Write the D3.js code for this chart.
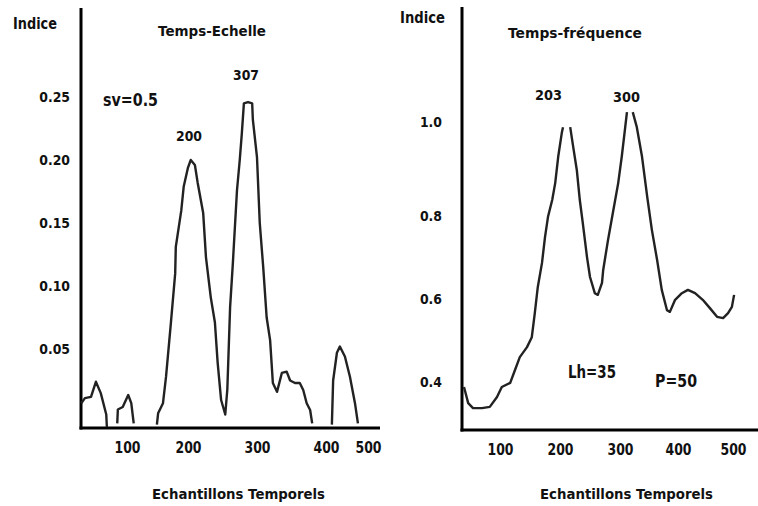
<!DOCTYPE html>
<html>
<head>
<meta charset="utf-8">
<script src="https://cdn.jsdelivr.net/npm/d3@7"></script>
<style>
  body { margin: 0; background: #fff; }
  text { font-family: "DejaVu Sans", sans-serif; font-weight: bold; fill: #111; }
</style>
</head>
<body>
<svg id="chart" width="758" height="506"></svg>
<script>
// --- Data ---
const sampleTicks = [100, 200, 300, 400, 500];
const leftIndiceTicks = [0.05, 0.10, 0.15, 0.20, 0.25];
const rightIndiceTicks = [0.4, 0.6, 0.8, 1.0];

// Temps-Echelle (null = gap in curve)
const leftSamples = [25, 31, 41, 49, 57, 66, 67, null,
  84, 85, 93, 102, 107, 111, null,
  149, 151, 159, 164, 172, 179, 180, 189, 193, 200, 204, 210, 214, 222, 226, 233, 239, 243, 248, 254,
  257, 261, 265, 271, 275, 278, 281, 287, 293, 294, 300, 304, 309, 314, 319, 323, 329, 336, 343, 348,
  355, 362, 367, 372, 377, 380, null,
  414, 417, 426, 433, 445, 457, 469, 476];
const leftIndice = [0.007, 0.011, 0.012, 0.024, 0.015, -0.002, -0.012, null,
  -0.009, 0.002, 0.004, 0.0135, 0.007, -0.009, null,
  -0.010, -0.001, 0.007, 0.028, 0.071, 0.110, 0.131, 0.160, 0.179, 0.194, 0.200, 0.196, 0.182, 0.158, 0.123, 0.091, 0.071, 0.039, 0.0095, -0.002,
  0.018, 0.083, 0.118, 0.176, 0.200, 0.221, 0.245, 0.246, 0.245, 0.232, 0.202, 0.150, 0.115, 0.075, 0.057, 0.023, 0.016, 0.031, 0.032, 0.025,
  0.023, 0.023, 0.0175, 0.007, 0.0016, -0.009, null,
  -0.010, 0.025, 0.047, 0.052, 0.044, 0.028, 0.007, -0.009];

// Temps-Fréquence
const rightSamples = [40, 47, 55, 70, 83, 95, 103, 117, 125, 133, 145, 153, 158, 163, 170, 175, 180, 187, 192, 197, 203, 205, null,
  217, 222, 228, 233, 238, 245, 250, 258, 263, 270, 272, 280, 288, 297, 303, 309, 312, null,
  322, 329, 338, 347, 355, 364, 372, 381, 386, 395, 407, 418, 431, 445, 458, 471, 482, 491, 498, 502];
const rightIndice = [0.388, 0.349, 0.337, 0.337, 0.340, 0.364, 0.388, 0.398, 0.429, 0.460, 0.484, 0.508, 0.566, 0.629, 0.687, 0.749, 0.798, 0.834, 0.870, 0.926, 0.977, 0.989, null,
  0.989, 0.947, 0.898, 0.834, 0.783, 0.701, 0.653, 0.614, 0.610, 0.639, 0.670, 0.742, 0.806, 0.870, 0.926, 0.989, 1.021, null,
  1.021, 0.989, 0.926, 0.840, 0.766, 0.694, 0.622, 0.573, 0.569, 0.598, 0.614, 0.622, 0.614, 0.598, 0.578, 0.557, 0.554, 0.566, 0.581, 0.610];

const svg = d3.select("#chart");

// squeeze a text node horizontally (the original font is a tall, narrow bold)
function squeeze(sel, ratio) {
  sel.each(function () {
    const w = this.getComputedTextLength();
    d3.select(this).attr("textLength", w * ratio).attr("lengthAdjust", "spacingAndGlyphs");
  });
}

// --- Scales (hand-drawn axes, so piecewise) ---
const xLeft = d3.scaleLinear().domain(sampleTicks).range([127, 188, 257, 326, 368]);
const yLeft = d3.scaleLinear().domain([0, 0.25]).range([412, 97]);
const xRight = d3.scaleLinear().domain(sampleTicks).range([500, 560, 620, 678, 733]);
const yRight = d3.scaleLinear().domain(rightIndiceTicks).range([382, 299, 216, 122]);

function panel(x, y, yTicks, fmt, o) {
  const g = svg.append("g");

  // y axis labels
  g.append("g")
    .attr("transform", `translate(${o.axisX},0)`)
    .call(d3.axisLeft(y).tickValues(yTicks).tickFormat(fmt).tickSize(0).tickPadding(o.yPad))
    .call(a => a.select(".domain").remove())
    .selectAll("text")
    .attr("font-family", "DejaVu Sans, sans-serif")
    .attr("font-weight", "bold")
    .attr("font-size", 14.5)
    .attr("fill", "#111")
    .call(squeeze, 0.86);

  // x axis labels
  g.append("g")
    .attr("transform", `translate(0,${o.axisY})`)
    .call(d3.axisBottom(x).tickValues(sampleTicks).tickSize(0).tickPadding(o.xPad))
    .call(a => a.select(".domain").remove())
    .selectAll("text")
    .attr("font-family", "DejaVu Sans, sans-serif")
    .attr("font-weight", "bold")
    .attr("font-size", 15)
    .attr("fill", "#111")
    .call(squeeze, 0.83);

  // thick axis lines
  g.append("line")
    .attr("x1", o.axisX).attr("x2", o.axisX)
    .attr("y1", o.top).attr("y2", o.axisY + 1.5)
    .attr("stroke", "#000").attr("stroke-width", 3);
  g.append("line")
    .attr("x1", o.axisX - 1.5).attr("x2", o.right)
    .attr("y1", o.axisY).attr("y2", o.axisY)
    .attr("stroke", "#000").attr("stroke-width", 3);

  // curve
  const pts = o.xs.map((d, i) => [d, o.ys[i]]);
  const line = d3.line()
    .defined(d => d[0] !== null && d[1] !== null)
    .x(d => x(d[0]))
    .y(d => y(d[1]));
  g.append("path")
    .datum(pts)
    .attr("d", line)
    .attr("fill", "none")
    .attr("stroke", "#222")
    .attr("stroke-width", 2.4)
    .attr("stroke-linejoin", "round");

  return g;
}

panel(xLeft, yLeft, leftIndiceTicks, d3.format(".2f"),
  { axisX: 81, axisY: 428, top: 8, right: 380, yPad: 11, xPad: 14, xs: leftSamples, ys: leftIndice });
panel(xRight, yRight, rightIndiceTicks, d3.format(".1f"),
  { axisX: 462, axisY: 430, top: 7, right: 758, yPad: 20, xPad: 14, xs: rightSamples, ys: rightIndice });

// --- Labels (left edge, baseline, font size, width) ---
function label(txt, x, y, size, w) {
  svg.append("text")
    .attr("x", x).attr("y", y)
    .attr("font-size", size)
    .attr("textLength", w)
    .attr("lengthAdjust", "spacingAndGlyphs")
    .text(txt);
}

label("Indice", 13, 29, 15, 44);
label("Temps-Echelle", 158, 36, 14.5, 108);
label("307", 233, 80, 14.5, 26);
label("200", 176, 141, 14.5, 26);
label("sv=0.5", 103, 106, 17, 55);
label("Echantillons Temporels", 152, 499, 14.5, 173);

label("Indice", 400, 23, 15, 45);
label("Temps-fréquence", 508, 38, 14.5, 134);
label("203", 535, 100, 14.5, 27);
label("300", 613, 102, 14.5, 27);
label("Lh=35", 568, 378, 17, 48);
label("P=50", 655, 387, 17, 42);
label("Echantillons Temporels", 540, 499, 14.5, 173);
</script>
</body>
</html>
